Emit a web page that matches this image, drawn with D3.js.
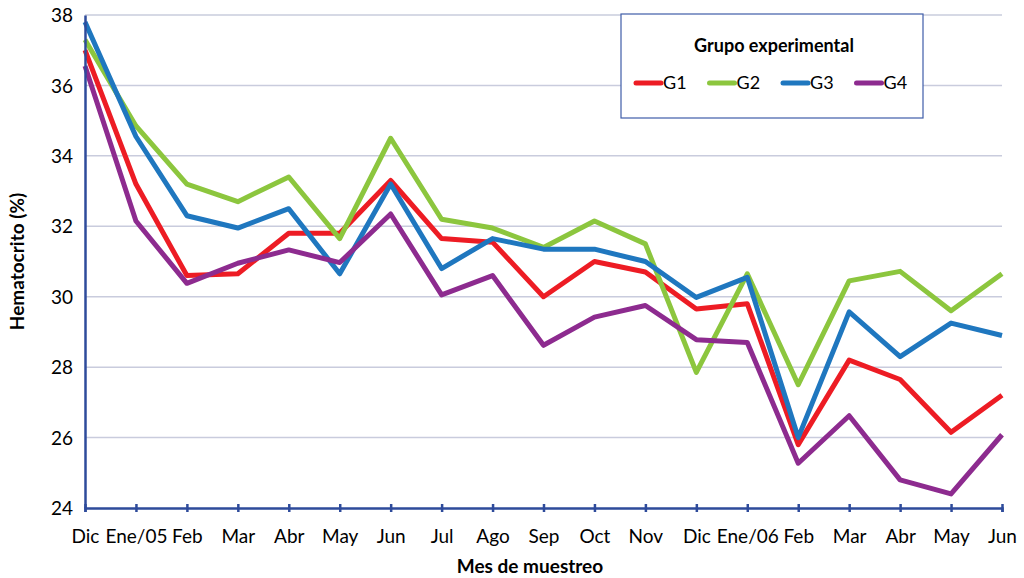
<!DOCTYPE html>
<html>
<head>
<meta charset="utf-8">
<script src="https://cdn.jsdelivr.net/npm/d3@7"></script>
<style>
  body { margin: 0; background: #fff; }
  text { font-family: Lato, "Open Sans", sans-serif; fill: #000; }
</style>
</head>
<body>
<svg id="chart" width="1024" height="578"></svg>
<script>
'use strict';

// months sampled, Dic/04 .. Jun/06
var months = ['Dic', 'Ene/05', 'Feb', 'Mar', 'Abr', 'May', 'Jun', 'Jul', 'Ago', 'Sep',
	'Oct', 'Nov', 'Dic', 'Ene/06', 'Feb', 'Mar', 'Abr', 'May', 'Jun'];

var g1 = [37.0, 33.2, 30.6, 30.65, 31.8, 31.8, 33.3, 31.65, 31.55, 30.0,
	31.0, 30.7, 29.65, 29.8, 25.8, 28.2, 27.65, 26.15, 27.2];
var g2 = [37.3, 34.85, 33.2, 32.7, 33.4, 31.65, 34.5, 32.2, 31.95, 31.4,
	32.15, 31.5, 27.85, 30.65, 27.5, 30.45, 30.72, 29.6, 30.65];
var g3 = [37.8, 34.55, 32.3, 31.95, 32.5, 30.65, 33.2, 30.8, 31.65, 31.35,
	31.35, 31.0, 29.98, 30.55, 26.0, 29.57, 28.3, 29.25, 28.9];
var g4 = [36.55, 32.15, 30.38, 30.95, 31.33, 30.97, 32.35, 30.05, 30.6, 28.62,
	29.42, 29.75, 28.78, 28.7, 25.27, 26.62, 24.8, 24.4, 26.08];

var groupNames = ['G1', 'G2', 'G3', 'G4'];
var groupColors = ['#ED1C24', '#8CC63E', '#1F77BF', '#8D2B8F'];
var yTicks = [24, 26, 28, 30, 32, 34, 36, 38];

var series = [g1, g2, g3, g4];

var svg = d3.select('#chart');
var margin = { left: 85, right: 22, top: 15, bottom: 70 };
var W = 1024, H = 578;

var x = d3.scalePoint()
	.domain(d3.range(months.length))
	.range([margin.left, W - margin.right]);

var y = d3.scaleLinear()
	.domain([24, 38])
	.range([H - margin.bottom, margin.top]);

// gridlines
svg.append('g')
	.selectAll('line')
	.data(yTicks.slice(1))
	.enter().append('line')
	.attr('x1', margin.left)
	.attr('x2', W - margin.right)
	.attr('y1', function (d) { return y(d); })
	.attr('y2', function (d) { return y(d); })
	.attr('stroke', '#C9CCDD')
	.attr('stroke-width', 1.5);

// lines
var line = d3.line()
	.x(function (d, i) { return x(i); })
	.y(function (d) { return y(d); });

svg.append('g')
	.selectAll('path')
	.data(series)
	.enter().append('path')
	.attr('d', line)
	.attr('fill', 'none')
	.attr('stroke', function (d, i) { return groupColors[i]; })
	.attr('stroke-width', 5)
	.attr('stroke-linejoin', 'round');

// y axis
var yAxis = svg.append('g')
	.attr('transform', 'translate(' + margin.left + ',0)')
	.call(d3.axisLeft(y).tickValues(yTicks).tickSize(0).tickPadding(12));
yAxis.select('.domain').attr('stroke', '#2E4B9B').attr('stroke-width', 2.5);
yAxis.selectAll('text').style('font-size', '19px').attr('dy', '0.35em');

// x axis
var xAxis = svg.append('g')
	.attr('transform', 'translate(0,' + y(24) + ')')
	.call(d3.axisBottom(x).tickFormat(function (i) { return months[i]; }).tickSize(4).tickPadding(18));
xAxis.select('.domain').attr('stroke', '#2E4B9B').attr('stroke-width', 2.5);
xAxis.selectAll('.tick line')
	.attr('y1', -4)
	.attr('stroke', '#2E4B9B')
	.attr('stroke-width', 2.5);
xAxis.selectAll('text').style('font-size', '19px');

// axis titles
svg.append('text')
	.attr('transform', 'translate(24,' + ((margin.top + H - margin.bottom) / 2) + ') rotate(-90)')
	.attr('text-anchor', 'middle')
	.style('font-size', '19px')
	.style('font-weight', 'bold')
	.text('Hematocrito (%)');

svg.append('text')
	.attr('x', 530)
	.attr('y', 573)
	.attr('text-anchor', 'middle')
	.style('font-size', '19px')
	.style('font-weight', 'bold')
	.text('Mes de muestreo');

// legend
var legend = svg.append('g').attr('transform', 'translate(621,14)');
legend.append('rect')
	.attr('width', 302)
	.attr('height', 104)
	.attr('fill', '#fff')
	.attr('stroke', '#3F5DA8')
	.attr('stroke-width', 1.2);
legend.append('text')
	.attr('x', 153)
	.attr('y', 38)
	.attr('text-anchor', 'middle')
	.style('font-size', '18px')
	.style('font-weight', 'bold')
	.text('Grupo experimental');

var items = legend.selectAll('.item')
	.data(groupNames)
	.enter().append('g')
	.attr('class', 'item')
	.attr('transform', function (d, i) { return 'translate(' + (15 + i * 73.5) + ',69)'; });
items.append('line')
	.attr('x1', 0)
	.attr('x2', 25)
	.attr('stroke', function (d, i) { return groupColors[i]; })
	.attr('stroke-width', 5)
	.attr('stroke-linecap', 'round');
items.append('text')
	.attr('x', 27)
	.attr('dy', '0.35em')
	.style('font-size', '18px')
	.text(function (d) { return d; });
</script>
</body>
</html>
